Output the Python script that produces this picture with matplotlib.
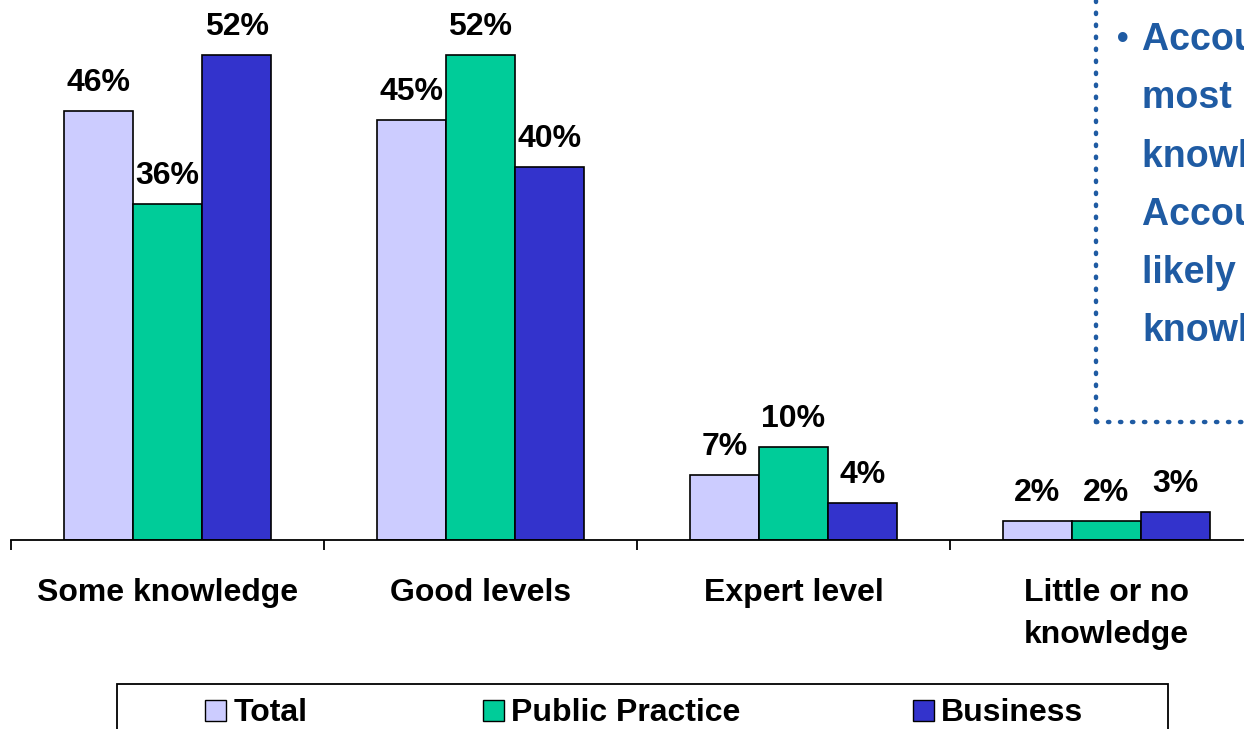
import matplotlib
matplotlib.use("Agg")
import matplotlib.pyplot as plt
from matplotlib.patches import Rectangle
import numpy as np

categories = ["Some knowledge", "Good levels", "Expert level", "Little or no\nknowledge"]
series_names = ["Total", "Public Practice", "Business"]
total = [46, 45, 7, 2]
public_practice = [36, 52, 10, 2]
business = [52, 40, 4, 3]
colors = ["#CCCCFF", "#00CC99", "#3333CC"]
callout_lines = ["Accountants in Business are", "most likely to have some",
                 "knowledge of the area, while", "Accountants in Public Practice are",
                 "likely to have good levels of", "knowledge"]

plt.rcParams['font.family'] = ['Liberation Sans', 'DejaVu Sans']
W, H = 1244, 729
fig = plt.figure(figsize=(W / 100, H / 100), dpi=100)

# axes geometry in pixels
x0, base_y, cat_w = 11, 540, 313
ax = fig.add_axes([x0 / W, (H - base_y) / H, 4 * cat_w / W, base_y / H])
ax.set_xlim(-0.5, 3.5)
ax.set_ylim(0, 540 / (485 / 52))

x = np.arange(len(categories))
bw = 0.221
for i, (vals, col, name) in enumerate(zip([total, public_practice, business], colors, series_names)):
    bars = ax.bar(x + (i - 1) * bw, vals, width=bw, color=col, edgecolor="black", linewidth=1.2, label=name)
    for b, v in zip(bars, vals):
        ax.annotate(f"{v}%", (b.get_x() + b.get_width() / 2, b.get_height()),
                    xytext=(0, 14.4), textcoords="offset points", ha="center", va="baseline",
                    fontsize=23, fontweight="bold")

for s in ["top", "right", "left"]:
    ax.spines[s].set_visible(False)
ax.spines["bottom"].set_linewidth(1.3)
ax.set_yticks([])
ax.set_xticks(x)
ax.set_xticklabels(categories, fontsize=23, fontweight="bold", linespacing=1.5, va="top")
ax.tick_params(axis="x", which="major", length=0, pad=27.5)
ax.set_xticks(np.arange(-0.5, 4.0, 1.0), minor=True)
ax.tick_params(axis="x", which="minor", length=7.5, width=1.3, direction="out")

# legend box (manual, pixel-based)
def px(xp, yp):
    return xp / W, 1 - yp / H

lx, ly = px(117, 684)
fig.patches.append(Rectangle((lx, 1 - 760 / H), (1168 - 117) / W, (760 - 684) / H,
                             transform=fig.transFigure, facecolor="white",
                             edgecolor="black", linewidth=1.3))
for (sx, tx), col, name in zip([(205, 234), (483, 511), (913, 941)], colors, series_names):
    rx, ry = px(sx, 721)
    fig.patches.append(Rectangle((rx, ry), 21 / W, 21 / H, transform=fig.transFigure,
                                 facecolor=col, edgecolor="black", linewidth=1.0))
    tx_, ty_ = px(tx, 713)
    fig.text(tx_, ty_, name, fontsize=23, fontweight="bold", ha="left", va="center")

# callout box
blue = "#1F5BA3"
bx, by = px(1096, 422)
fig.add_artist(plt.Line2D([bx, bx], [by, 1.02], transform=fig.transFigure, color=blue,
                          linestyle=(0, (0.3, 2.4)), linewidth=3.2, dash_capstyle="round"))
fig.add_artist(plt.Line2D([bx, 1.02], [by, by], transform=fig.transFigure, color=blue,
                          linestyle=(0, (0.3, 2.4)), linewidth=3.2, dash_capstyle="round"))
bxx, byy = px(1117, 40)
fig.text(bxx, byy, "•", fontsize=24, fontweight="bold", color=blue, ha="left", va="center")
ys = [40, 98, 157, 215, 273, 331]
for line, yp in zip(callout_lines, ys):
    tx_, ty_ = px(1142, yp)
    fig.text(tx_, ty_, line, fontsize=27, fontweight="bold", color=blue, ha="left", va="center")

fig.savefig("out.png", dpi=100)
